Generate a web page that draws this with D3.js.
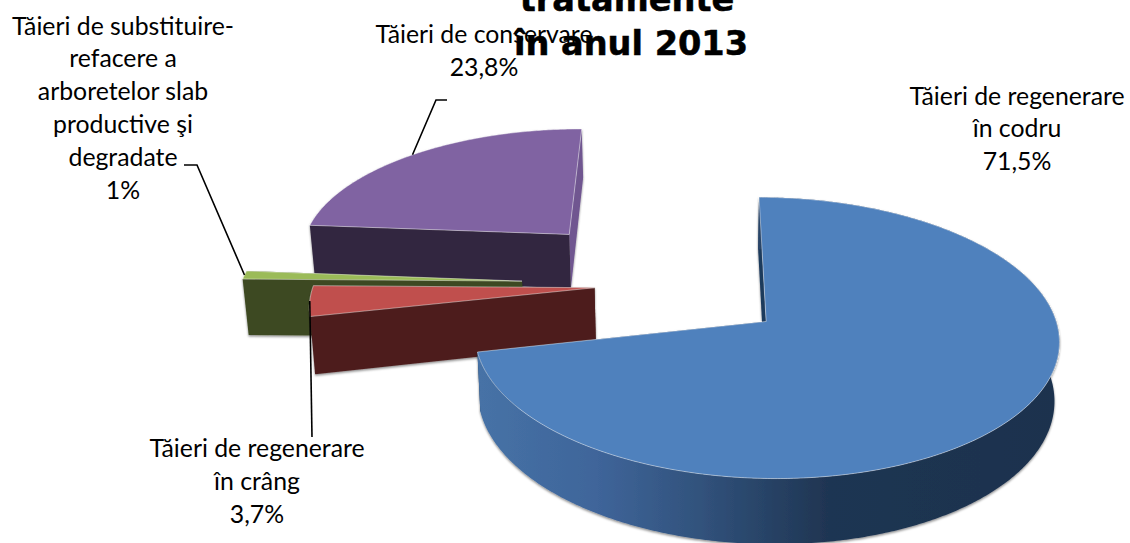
<!DOCTYPE html>
<html>
<head>
<meta charset="utf-8">
<script src="https://cdn.jsdelivr.net/npm/d3@7"></script>
<style>
html,body{margin:0;padding:0;background:#fff}
svg{display:block}
text{font-family:Lato,sans-serif;font-size:24.8px;fill:#000;text-anchor:middle}
.title{font-family:"DejaVu Sans",sans-serif;font-weight:bold;font-size:33.6px;stroke:#000;stroke-width:0.5px}
</style>
</head>
<body>
<svg id="chart" width="1130" height="543"></svg>
<script>
// Data
const categories = ["Tăieri de regenerare în codru","Tăieri de regenerare în crâng","Tăieri de substituire-refacere a arboretelor slab productive şi degradate","Tăieri de conservare"];
const values = [71.5, 3.7, 1, 23.8];
const valueLabels = ["71,5%","3,7%","1%","23,8%"];
const explosion = [0.44, 0.26, 0.52, 0.545];
const radiusFactor = [1, 1, 1, 0.98];
const titleLines = ["tratamente","în anul 2013"];
const labelLines = [
  ["Tăieri de regenerare","în codru","71,5%"],
  ["Tăieri de regenerare","în crâng","3,7%"],
  ["Tăieri de substituire-","refacere a","arboretelor slab","productive şi","degradate","1%"],
  ["Tăieri de conservare","23,8%"]
];
const topColors = ["#4f81bd","#c0504d","#9bbb59","#8064a2"];
const wallColors = ["#1f3a5b","#4d1f1e","#3e4a20","#33263f"];
const endWallColors = ["#1f3a5b","#4d1f1e","#3e4a20","#6f5690"];
const drawOrder = [3,2,1,0];

// Layout of the labels (centre x, first baseline, line step) and leader elbows
const labelPos = [[1017,104.5,32.5],[257,456.5,33],[123,34.5,32.8],[484,42.5,33]];
const leaderElbows = [null,[[312,437]],[[184,165],[197,165]],[[447,100],[436,100]]];

// 3D projection
const VX=690, Y0=321, A=138.6, B=0.117, RX=290, DEPTH=58, CONV=0.0135;
const UC=-0.08, GC=-0.273;
const START=0.2*Math.PI/180;
const project=(u,g,z)=>{
  const s=1/(1-B*g);
  const x0=VX+u*RX*s, y0=Y0+A*g*s;
  return [VX+(x0-VX)*(1-CONV*z), y0+DEPTH*s*z];
};

const svg=d3.select("#chart");
const defs=svg.append("defs");
const grad=defs.append("linearGradient").attr("id","blueWall").attr("gradientUnits","userSpaceOnUse")
  .attr("x1",480).attr("x2",1060).attr("y1",0).attr("y2",0);
[[0,"#4672a6"],[0.2,"#3f659a"],[0.38,"#31527c"],[0.6,"#1f3552"],[1,"#1d324e"]].forEach(s=>grad.append("stop").attr("offset",s[0]).attr("stop-color",s[1]));
const f=defs.append("filter").attr("id","shadow").attr("x","-5%").attr("y","-5%").attr("width","110%").attr("height","110%");
f.append("feDropShadow").attr("dx",0).attr("dy",1.5).attr("stdDeviation",1.2).attr("flood-color","#000").attr("flood-opacity",0.45);

const pie=d3.pie().value(v=>v).sort(null).startAngle(START).endAngle(2*Math.PI+START);
const arcs=pie(values);

const apex=(d,i,z)=>{
  const m=(d.startAngle+d.endAngle)/2;
  return project(UC+explosion[i]*Math.sin(m),GC-explosion[i]*Math.cos(m),z);
};
const rim=(d,i,t,z)=>{
  const m=(d.startAngle+d.endAngle)/2, r=radiusFactor[i];
  return project(UC+explosion[i]*Math.sin(m)+r*Math.sin(t),GC-explosion[i]*Math.cos(m)-r*Math.cos(t),z);
};
const arcAngles=d=>{
  const n=Math.max(4,Math.ceil((d.endAngle-d.startAngle)/0.01));
  return d3.range(n+1).map(k=>d.startAngle+(d.endAngle-d.startAngle)*k/n);
};
const line=d3.line();

drawOrder.forEach(i=>{
  const d=arcs[i];
  const g=svg.append("g").attr("class","slice").attr("filter","url(#shadow)");
  const ts=arcAngles(d);
  const wall=(t,fill)=>g.append("path")
    .attr("d",line([apex(d,i,0),rim(d,i,t,0),rim(d,i,t,1),apex(d,i,1)])+"Z").attr("fill",fill);
  // radial walls first, the rounded wall over them
  wall(d.endAngle,endWallColors[i]);
  wall(d.startAngle,wallColors[i]);
  const outer=ts.map(t=>rim(d,i,t,0)).concat(ts.slice().reverse().map(t=>rim(d,i,t,1)));
  if(i===0) g.append("path").attr("d",line(outer)+"Z").attr("fill","url(#blueWall)");
  // top face
  const top=[apex(d,i,0)].concat(ts.map(t=>rim(d,i,t,0)));
  g.append("path").attr("d",line(top)+"Z").attr("fill",topColors[i])
    .attr("stroke","#ffffff").attr("stroke-opacity",0.55).attr("stroke-width",0.8).attr("stroke-linejoin","round");
});

// Leaders
[1,2,3].forEach(i=>{
  const d=arcs[i], m=(d.startAngle+d.endAngle)/2;
  svg.append("path").attr("d",line(leaderElbows[i].concat([rim(d,i,m,0)])))
    .attr("fill","none").attr("stroke","#000").attr("stroke-width",1.6);
});

// Labels
labelLines.forEach((lines,i)=>{
  const p=labelPos[i];
  const t=svg.append("text").attr("class","label");
  lines.forEach((s,k)=>t.append("tspan").attr("x",p[0]).attr("y",p[1]+k*p[2]).text(s));
});

// Title
const titleAt=[[627,11],[631,55]];
titleLines.forEach((s,k)=>svg.append("text").attr("class","title").attr("x",titleAt[k][0]).attr("y",titleAt[k][1]).text(s));
</script>
</body>
</html>
